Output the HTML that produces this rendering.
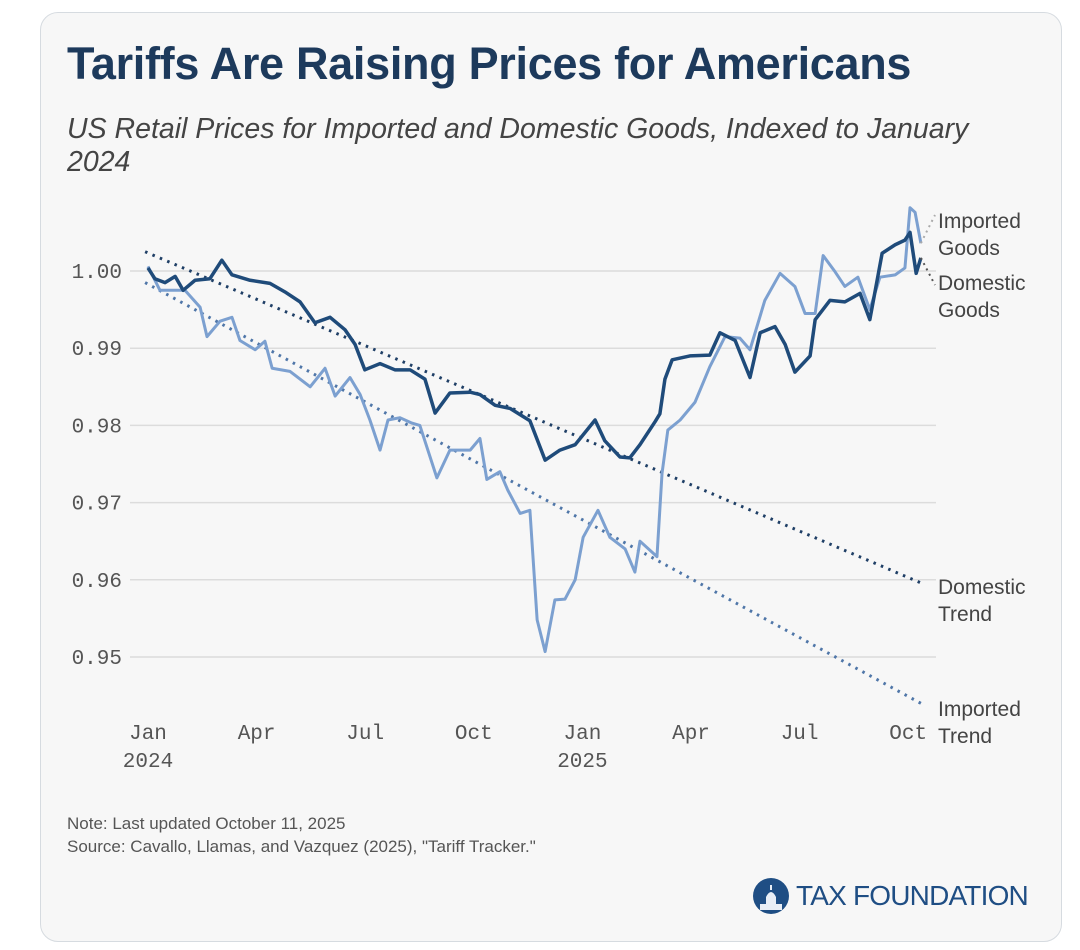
<!DOCTYPE html>
<html><head><meta charset="utf-8"><style>
body{margin:0;background:#fff;width:1080px;height:950px;overflow:hidden;font-family:"Liberation Sans",sans-serif}
#card{position:absolute;left:40px;top:12px;width:1020px;height:928px;border:1.5px solid #d6dbe0;border-radius:18px;background:#f7f7f7}
#title{position:absolute;left:67px;top:38px;font-size:45px;font-weight:bold;color:#1d3a5c;letter-spacing:-0.3px}
#sub{position:absolute;left:67px;top:113px;width:940px;font-size:28.5px;font-style:italic;color:#444;line-height:33px}
.note{position:absolute;left:67px;font-size:17px;color:#555}
svg{position:absolute;left:0;top:0}
</style></head><body>
<div id="card"></div>
<div id="title">Tariffs Are Raising Prices for Americans</div>
<div id="sub">US Retail Prices for Imported and Domestic Goods, Indexed to January 2024</div>
<div class="note" style="top:814px">Note: Last updated October 11, 2025</div>
<div class="note" style="top:837px">Source: Cavallo, Llamas, and Vazquez (2025), "Tariff Tracker."</div>
<div style="position:absolute;left:752px;top:876px;height:40px;display:flex;align-items:center">
<svg width="38" height="38" style="position:static" viewBox="0 0 38 38"><circle cx="19" cy="19" r="18" fill="#1f4e84"/><path d="M8 33 L8 27 L14 27 L14 20 Q19 10 24 20 L24 27 L30 27 L30 33 Z" fill="#e8eef6"/><rect x="18" y="8" width="2" height="5" fill="#e8eef6"/></svg>
<span style="font-size:28px;color:#1f4e84;margin-left:6px;letter-spacing:-0.8px">TAX FOUNDATION</span></div>
<svg id="chart" width="1080" height="950"></svg>
<script>
const yTicks=[1.00,0.99,0.98,0.97,0.96,0.95];
const xTickMonths=[0,3,6,9,12,15,18,21];
const xTickLabels=[["Jan","2024"],["Apr",""],["Jul",""],["Oct",""],["Jan","2025"],["Apr",""],["Jul",""],["Oct",""]];
const domDates=[0,0.19,0.47,0.75,0.97,1.30,1.71,2.04,2.32,2.82,3.37,3.78,4.20,4.61,5.03,5.44,5.72,5.99,6.41,6.82,7.24,7.65,7.93,8.34,8.90,9.17,9.59,10.0,10.55,10.97,11.38,11.80,12.35,12.62,13.04,13.31,13.59,14.01,14.14,14.28,14.48,14.97,15.52,15.80,16.22,16.63,16.91,17.32,17.60,17.87,18.29,18.43,18.84,19.25,19.67,19.94,20.28,20.64,20.91,21.05,21.22,21.35];
const domVals=[1.0004,0.999,0.9985,0.9993,0.9975,0.9988,0.999,1.0014,0.9995,0.9988,0.9984,0.9973,0.996,0.9933,0.994,0.9924,0.9905,0.9872,0.988,0.9872,0.9872,0.986,0.9816,0.9842,0.9843,0.984,0.9826,0.9822,0.9806,0.9755,0.9768,0.9775,0.9807,0.978,0.9759,0.9758,0.9775,0.9805,0.9815,0.986,0.9885,0.989,0.9891,0.992,0.991,0.9862,0.992,0.9928,0.9905,0.9869,0.989,0.9937,0.9962,0.996,0.9971,0.9937,1.0023,1.0034,1.004,1.005,0.9997,1.0017];
const impDates=[0,0.33,0.75,1.02,1.44,1.63,1.99,2.32,2.54,2.96,3.23,3.43,3.92,4.48,4.89,5.17,5.58,5.86,6.13,6.41,6.63,6.96,7.29,7.51,7.98,8.34,8.90,9.17,9.36,9.72,9.94,10.28,10.55,10.75,10.97,11.24,11.52,11.80,12.02,12.43,12.76,13.18,13.45,13.59,14.06,14.20,14.36,14.70,15.11,15.52,15.94,16.35,16.63,17.04,17.46,17.87,18.15,18.43,18.65,18.98,19.25,19.61,19.94,20.22,20.64,20.91,21.05,21.19,21.35];
const impVals=[1.0006,0.9975,0.9975,0.9975,0.9953,0.9915,0.9935,0.994,0.991,0.9898,0.9909,0.9874,0.987,0.985,0.9874,0.9838,0.9862,0.984,0.9807,0.9768,0.9807,0.981,0.9803,0.98,0.9732,0.9768,0.9768,0.9783,0.973,0.974,0.9716,0.9686,0.969,0.9548,0.9507,0.9574,0.9575,0.96,0.9655,0.969,0.9655,0.964,0.961,0.965,0.963,0.9738,0.9794,0.9807,0.983,0.9876,0.9915,0.9913,0.9898,0.9962,0.9997,0.998,0.9945,0.9945,1.002,0.9999,0.998,0.9992,0.995,0.9992,0.9995,1.0004,1.0082,1.0076,1.0036];
const domTrend=[[-0.08,1.0025],[21.35,0.9596]];
const impTrend=[[-0.08,0.9985],[21.35,0.944]];
const NS="http://www.w3.org/2000/svg";
const svg=document.getElementById('chart');
const X=m=>148+m*36.2;
const Y=v=>271+(1.00-v)*7720;
function mk(t,a){const e=document.createElementNS(NS,t);for(const k in a)e.setAttribute(k,a[k]);svg.appendChild(e);return e;}
yTicks.forEach(v=>{
 const g=mk('line',{x1:130,x2:936,y1:Y(v),y2:Y(v),stroke:'#dcdcdc','stroke-width':1.5});
 
 
 const t=mk('text',{x:122,y:Y(v)+7,'text-anchor':'end','font-family':'Liberation Mono, monospace','font-size':21,fill:'#555'});
 t.textContent=v.toFixed(2);
 
 
});
xTickMonths.forEach((m,i)=>{
 xTickLabels[i].forEach((s,j)=>{ if(!s)return;
  const t=mk('text',{x:X(m),y:739+j*28,'text-anchor':'middle','font-family':'Liberation Mono, monospace','font-size':21,fill:'#555'});
  t.textContent=s;
  
  
 });
});
function trend(tr,col,name){
 const l=mk('line',{x1:X(tr[0][0]),y1:Y(tr[0][1]),x2:X(tr[1][0]),y2:Y(tr[1][1]),stroke:col,'stroke-width':3,'stroke-dasharray':'2.5 5.5'});
 
 
}
trend(domTrend,'#1f3f66','domestic-trend-line');
trend(impTrend,'#4f76a8','imported-trend-line');
function series(d,v,col,w,name){
 const p=mk('polyline',{points:d.map((m,i)=>X(m)+','+Y(v[i])).join(' '),fill:'none',stroke:col,'stroke-width':w,'stroke-linejoin':'round'});
 
 
}
series(impDates,impVals,'#7ca0d0',3,'imported-goods-line');
series(domDates,domVals,'#1f4b7a',3.5,'domestic-goods-line');
const c1=mk('line',{x1:X(21.35),y1:Y(impVals[impVals.length-1]),x2:935,y2:215,stroke:'#aaa','stroke-width':2,'stroke-dasharray':'2 4'});


const c2=mk('line',{x1:X(21.35),y1:Y(domVals[domVals.length-1]),x2:935,y2:285,stroke:'#555','stroke-width':2,'stroke-dasharray':'2 4'});


const labels=[["Imported",228,'imported-goods-label'],["Goods",255,'imported-goods-label'],["Domestic",290,'domestic-goods-label'],["Goods",317,'domestic-goods-label'],["Domestic",594,'domestic-trend-label'],["Trend",621,'domestic-trend-label'],["Imported",716,'imported-trend-label'],["Trend",743,'imported-trend-label']];
labels.forEach(l=>{
 const t=mk('text',{x:938,y:l[1],'font-size':21,fill:'#444','font-family':'Liberation Sans, sans-serif'});
 t.textContent=l[0];
 
 
});
</script>
</body></html>
